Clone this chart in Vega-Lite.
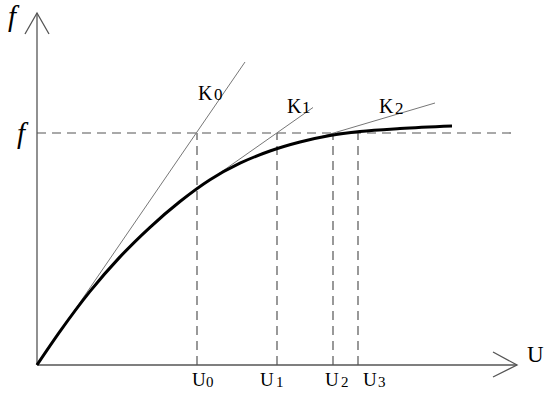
{
  "$schema": "https://vega.github.io/schema/vega-lite/v6.json",
  "width": 550,
  "height": 404,
  "autosize": {"type": "none"},
  "padding": 0,
  "background": "white",
  "config": {"view": {"stroke": null}},
  "datasets": {
    "curve": [
      {"u": 0, "v": 0}, {"u": 23, "v": 33.6}, {"u": 53, "v": 73.6}, {"u": 83, "v": 108.1},
      {"u": 113, "v": 137.7}, {"u": 143, "v": 163.5}, {"u": 173, "v": 185.3}, {"u": 203, "v": 201.8},
      {"u": 233, "v": 214}, {"u": 263, "v": 223}, {"u": 293, "v": 229.5}, {"u": 323, "v": 233.5},
      {"u": 363, "v": 236.5}, {"u": 415, "v": 239}
    ],
    "tangents": [
      {"id": "K0", "o": 1, "u": 0, "v": 0}, {"id": "K0", "o": 2, "u": 208, "v": 303},
      {"id": "K1", "o": 1, "u": 180, "v": 190}, {"id": "K1", "o": 2, "u": 276, "v": 257.5},
      {"id": "K2", "o": 1, "u": 278, "v": 226.5}, {"id": "K2", "o": 2, "u": 398, "v": 262}
    ],
    "axes": [
      {"id": "y", "o": 1, "u": 0, "v": 0}, {"id": "y", "o": 2, "u": 0, "v": 352},
      {"id": "ya", "o": 1, "u": -12, "v": 331}, {"id": "ya", "o": 2, "u": 0, "v": 352}, {"id": "ya", "o": 3, "u": 12, "v": 331},
      {"id": "x", "o": 1, "u": 0, "v": 0}, {"id": "x", "o": 2, "u": 480, "v": 0},
      {"id": "xa", "o": 1, "u": 456, "v": 13}, {"id": "xa", "o": 2, "u": 480, "v": 0}, {"id": "xa", "o": 3, "u": 456, "v": -12}
    ],
    "vdash": [
      {"u": 160, "v0": 0, "v1": 232}, {"u": 240, "v0": 0, "v1": 232},
      {"u": 296, "v0": 0, "v1": 232}, {"u": 321, "v0": 0, "v1": 232}
    ],
    "hdash": [{"u0": 0, "u1": 480, "v": 232}],
    "mainLabels": [
      {"t": "U", "u": 155, "v": -21, "s": 19},
      {"t": "U", "u": 223, "v": -21, "s": 19},
      {"t": "U", "u": 288, "v": -21, "s": 19},
      {"t": "U", "u": 326, "v": -21, "s": 19},
      {"t": "K", "u": 161, "v": 265, "s": 20},
      {"t": "K", "u": 250, "v": 252, "s": 20},
      {"t": "K", "u": 342, "v": 252, "s": 20},
      {"t": "U", "u": 490, "v": 3, "s": 23}
    ],
    "subLabels": [
      {"t": "0", "u": 169, "v": -22, "s": 15},
      {"t": "1", "u": 239, "v": -22, "s": 15},
      {"t": "2", "u": 304, "v": -22, "s": 15},
      {"t": "3", "u": 341, "v": -22, "s": 15},
      {"t": "0", "u": 177, "v": 265, "s": 17},
      {"t": "1", "u": 265, "v": 252, "s": 17},
      {"t": "2", "u": 358, "v": 251, "s": 17}
    ],
    "fLabels": [
      {"t": "f", "u": -29, "v": 339, "s": 29},
      {"t": "f", "u": -20, "v": 222, "s": 29}
    ]
  },
  "layer": [
    {
      "data": {"name": "hdash"},
      "mark": {"type": "rule", "color": "#555555", "strokeWidth": 1.2, "strokeDash": [9, 6]},
      "encoding": {
        "x": {"field": "u0", "type": "quantitative", "scale": {"domain": [-37, 513]}, "axis": null},
        "x2": {"field": "u1"},
        "y": {"field": "v", "type": "quantitative", "scale": {"domain": [-39, 365]}, "axis": null}
      }
    },
    {
      "data": {"name": "vdash"},
      "mark": {"type": "rule", "color": "#555555", "strokeWidth": 1.2, "strokeDash": [9, 6]},
      "encoding": {
        "x": {"field": "u", "type": "quantitative", "scale": {"domain": [-37, 513]}, "axis": null},
        "y": {"field": "v0", "type": "quantitative", "scale": {"domain": [-39, 365]}, "axis": null},
        "y2": {"field": "v1"}
      }
    },
    {
      "data": {"name": "axes"},
      "mark": {"type": "line", "color": "#555555", "strokeWidth": 1.3},
      "encoding": {
        "x": {"field": "u", "type": "quantitative", "scale": {"domain": [-37, 513]}, "axis": null},
        "y": {"field": "v", "type": "quantitative", "scale": {"domain": [-39, 365]}, "axis": null},
        "detail": {"field": "id"},
        "order": {"field": "o"}
      }
    },
    {
      "data": {"name": "tangents"},
      "mark": {"type": "line", "color": "#777777", "strokeWidth": 1},
      "encoding": {
        "x": {"field": "u", "type": "quantitative", "scale": {"domain": [-37, 513]}, "axis": null},
        "y": {"field": "v", "type": "quantitative", "scale": {"domain": [-39, 365]}, "axis": null},
        "detail": {"field": "id"},
        "order": {"field": "o"}
      }
    },
    {
      "data": {"name": "curve"},
      "mark": {"type": "line", "color": "#000000", "strokeWidth": 3, "interpolate": "monotone"},
      "encoding": {
        "x": {"field": "u", "type": "quantitative", "scale": {"domain": [-37, 513]}, "axis": null},
        "y": {"field": "v", "type": "quantitative", "scale": {"domain": [-39, 365]}, "axis": null}
      }
    },
    {
      "data": {"name": "mainLabels"},
      "mark": {"type": "text", "font": "Liberation Serif, Times New Roman, DejaVu Serif, serif", "align": "left", "baseline": "alphabetic", "color": "#000000"},
      "encoding": {
        "x": {"field": "u", "type": "quantitative", "scale": {"domain": [-37, 513]}, "axis": null},
        "y": {"field": "v", "type": "quantitative", "scale": {"domain": [-39, 365]}, "axis": null},
        "text": {"field": "t"},
        "size": {"field": "s", "type": "quantitative", "scale": null}
      }
    },
    {
      "data": {"name": "subLabels"},
      "mark": {"type": "text", "font": "Liberation Serif, Times New Roman, DejaVu Serif, serif", "align": "left", "baseline": "alphabetic", "color": "#000000"},
      "encoding": {
        "x": {"field": "u", "type": "quantitative", "scale": {"domain": [-37, 513]}, "axis": null},
        "y": {"field": "v", "type": "quantitative", "scale": {"domain": [-39, 365]}, "axis": null},
        "text": {"field": "t"},
        "size": {"field": "s", "type": "quantitative", "scale": null}
      }
    },
    {
      "data": {"name": "fLabels"},
      "mark": {"type": "text", "font": "Liberation Serif, Times New Roman, DejaVu Serif, serif", "fontStyle": "italic", "align": "left", "baseline": "alphabetic", "color": "#000000"},
      "encoding": {
        "x": {"field": "u", "type": "quantitative", "scale": {"domain": [-37, 513]}, "axis": null},
        "y": {"field": "v", "type": "quantitative", "scale": {"domain": [-39, 365]}, "axis": null},
        "text": {"field": "t"},
        "size": {"field": "s", "type": "quantitative", "scale": null}
      }
    }
  ]
}
